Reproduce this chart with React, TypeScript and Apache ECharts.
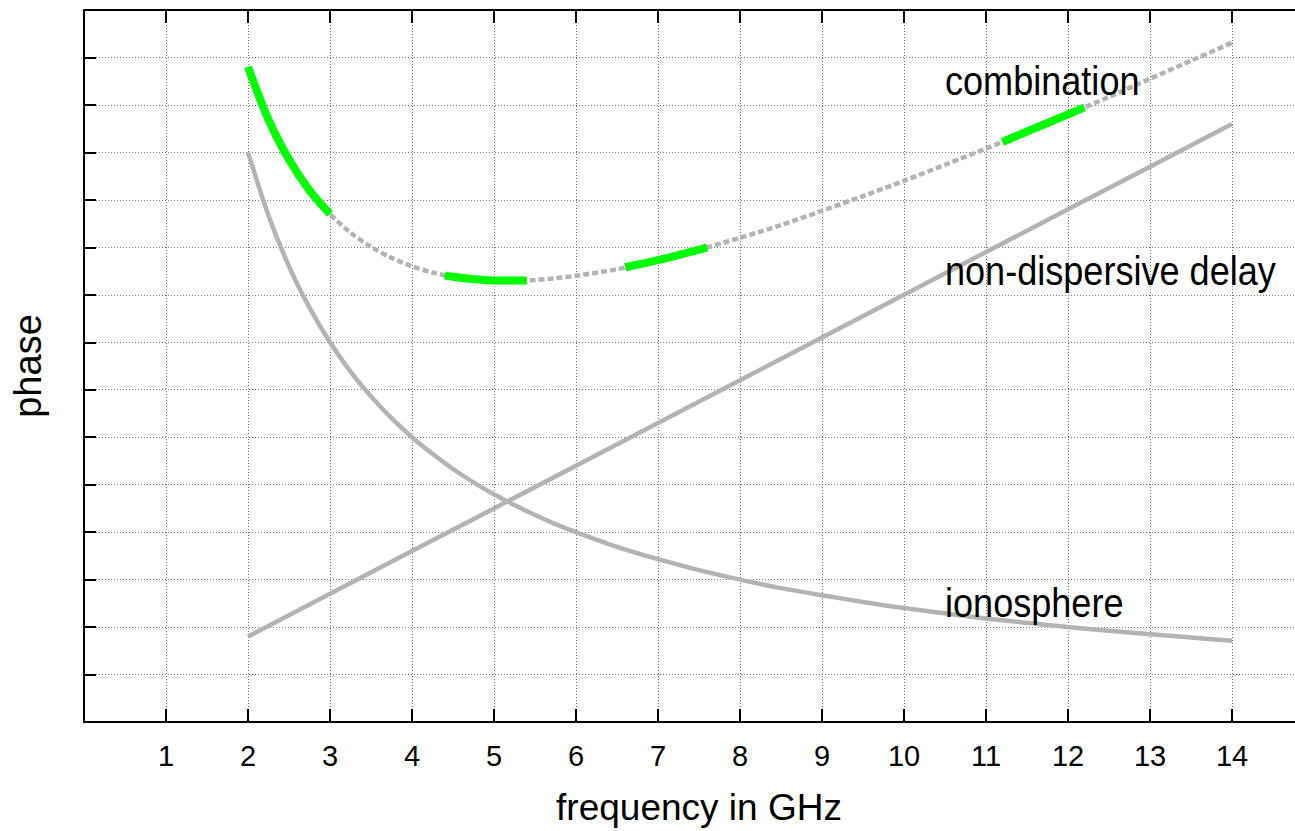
import React, { useEffect, useRef } from "react";
import * as echarts from "echarts";

// frequency samples (GHz)
const freq = [2, 2.25, 2.5, 2.75, 3, 3.25, 3.5, 3.75, 4, 4.25, 4.5, 4.75, 5, 5.25, 5.5, 5.75, 6, 6.5, 7, 7.5, 8, 8.5, 9, 9.5, 10, 10.5, 11, 11.5, 12, 12.5, 13, 13.5, 14];
// ionosphere phase
const ionosphere = [12.0, 10.67, 9.6, 8.73, 8.0, 7.38, 6.86, 6.4, 6.0, 5.65, 5.33, 5.05, 4.8, 4.57, 4.36, 4.17, 4.0, 3.69, 3.43, 3.2, 3.0, 2.82, 2.67, 2.53, 2.4, 2.29, 2.18, 2.09, 2.0, 1.92, 1.85, 1.78, 1.71];
// combination phase
const combination = [13.8, 12.69, 11.85, 11.2, 10.7, 10.31, 10.01, 9.78, 9.6, 9.47, 9.38, 9.33, 9.3, 9.3, 9.31, 9.35, 9.4, 9.54, 9.73, 9.95, 10.2, 10.47, 10.77, 11.08, 11.4, 11.74, 12.08, 12.44, 12.8, 13.17, 13.55, 13.93, 14.31];
// non-dispersive delay
const delayFreq = [2, 3, 4, 5, 6, 7, 8, 9, 10, 11, 12, 13, 14];
const delay = [1.8, 2.7, 3.6, 4.5, 5.4, 6.3, 7.2, 8.1, 9.0, 9.9, 10.8, 11.7, 12.6];
// highlighted (green) bands of the combination curve
const band1Freq = [2, 2.25, 2.5, 2.75, 3];
const band1 = [13.8, 12.69, 11.85, 11.2, 10.7];
const band2Freq = [4.4, 4.5, 4.75, 5, 5.25, 5.4];
const band2 = [9.41, 9.38, 9.33, 9.3, 9.3, 9.3];
const band3Freq = [6.6, 7, 7.5, 7.6];
const band3 = [9.58, 9.73, 9.95, 10.0];
const band4Freq = [11.2, 11.5, 12, 12.2];
const band4 = [12.22, 12.44, 12.8, 12.95];

const labels = ["combination", "non-dispersive delay", "ionosphere"];

const zip = (xs: number[], ys: number[]) => xs.map((x, i) => [x, ys[i]]);

const FONT = "'Liberation Sans', Arial, Helvetica, sans-serif";
const GRAY = "#b3b3b3";
const GREEN = "#00ff00";

export default function App() {
  const ref = useRef<HTMLDivElement>(null);
  useEffect(() => {
    if (!ref.current) return;
    const chart = echarts.init(ref.current, undefined, { renderer: "svg" });
    const gridLine = { show: true, lineStyle: { color: "#777777", type: [1, 2] as any, width: 1 } };
    const axisLine = { show: true, onZero: false, lineStyle: { color: "#000", width: 2 } };
    const tick = { show: true, inside: true, length: 13, lineStyle: { color: "#000", width: 2 } };
    const greenSeries = (d: number[][]) => ({
      type: "line",
      data: d,
      showSymbol: false,
      smooth: 0.3,
      lineStyle: { color: GREEN, width: 8, cap: "butt" },
      z: 5,
    });
    const annot = (text: string, x: number, y: number) => ({
      type: "text",
      x,
      y,
      scaleX: 0.88,
      z: 100,
      style: { text, fontSize: 41, fontFamily: FONT, fill: "#000", verticalAlign: "top", align: "left" },
    });
    chart.setOption({
      animation: false,
      backgroundColor: "#fff",
      textStyle: { fontFamily: FONT },
      grid: { left: 84, top: 10, width: 1230, height: 712, containLabel: false, outerBoundsMode: "none" },
      xAxis: [
        {
          type: "value",
          min: 0,
          max: 15,
          interval: 1,
          position: "bottom",
          axisLine,
          axisTick: tick,
          splitLine: gridLine,
          axisLabel: {
            color: "#000",
            fontSize: 29,
            fontFamily: FONT,
            margin: 19,
            formatter: (v: number) => (v >= 1 && v <= 14 ? String(v) : ""),
          },
          name: "frequency in GHz",
          nameLocation: "middle",
          nameGap: 67,
          nameTextStyle: { color: "#000", fontSize: 37, fontFamily: FONT },
        },
        {
          type: "value",
          min: 0,
          max: 15,
          interval: 1,
          position: "top",
          axisLine,
          axisTick: tick,
          splitLine: { show: false },
          axisLabel: { show: false },
        },
      ],
      yAxis: [
        {
          type: "value",
          min: 0,
          max: 15,
          interval: 1,
          position: "left",
          axisLine,
          axisTick: { ...tick, length: 12 },
          splitLine: gridLine,
          axisLabel: { show: false },
          name: "phase",
          nameLocation: "middle",
          nameGap: 37,
          nameTextStyle: { color: "#000", fontSize: 38, fontFamily: FONT },
        },
        {
          type: "value",
          min: 0,
          max: 15,
          interval: 1,
          position: "right",
          axisLine,
          axisTick: { ...tick, length: 12 },
          splitLine: { show: false },
          axisLabel: { show: false },
        },
      ],
      series: [
        {
          name: labels[2],
          type: "line",
          data: zip(freq, ionosphere),
          showSymbol: false,
          smooth: 0.3,
          lineStyle: { color: GRAY, width: 4.5 },
          z: 2,
        },
        {
          name: labels[1],
          type: "line",
          data: zip(delayFreq, delay),
          showSymbol: false,
          lineStyle: { color: GRAY, width: 4.5 },
          z: 2,
        },
        {
          name: labels[0],
          type: "line",
          data: zip(freq, combination),
          showSymbol: false,
          smooth: 0.3,
          lineStyle: { color: GRAY, width: 4.5, type: [6, 3] as any },
          z: 3,
        },
        greenSeries(zip(band1Freq, band1)),
        greenSeries(zip(band2Freq, band2)),
        greenSeries(zip(band3Freq, band3)),
        greenSeries(zip(band4Freq, band4)),
      ],
      graphic: [
        annot(labels[0], 945, 60),
        annot(labels[1], 945, 250),
        annot(labels[2], 945, 582),
      ],
    });
    return () => chart.dispose();
  }, []);
  return (
    <div
      ref={ref}
      style={{ position: "fixed", left: 0, top: 0, width: 1295, height: 831, background: "#fff" }}
    />
  );
}
